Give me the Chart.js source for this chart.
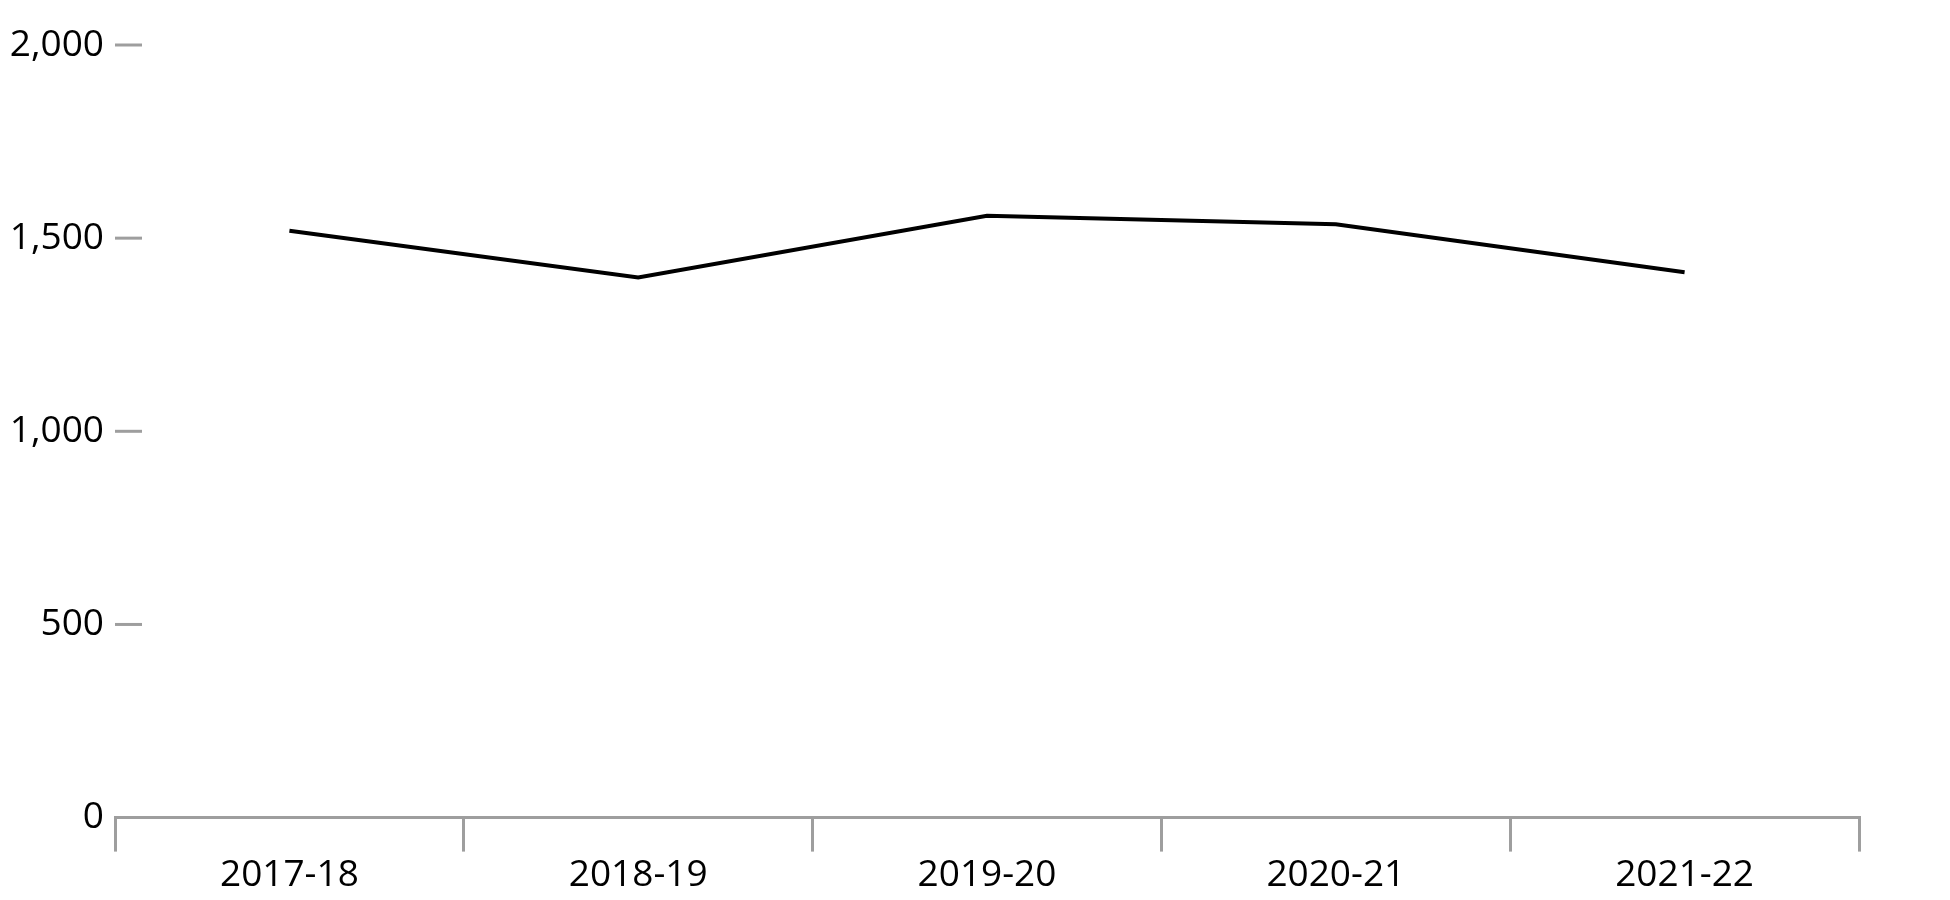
<!DOCTYPE html>
<html>
<head>
<meta charset="utf-8">
<script src="https://cdn.jsdelivr.net/npm/chart.js@4.4.1/dist/chart.umd.min.js"></script>
<style>
  html, body { margin: 0; padding: 0; background: #fff; }
  #wrap { width: 1950px; height: 900px; }
</style>
</head>
<body>
<div id="wrap"><canvas id="lineChart"></canvas></div>
<script>
// Chart data
var years = ['2017-18', '2018-19', '2019-20', '2020-21', '2021-22'];
var counts = [1519, 1398, 1558, 1536, 1412];
var yTicks = [0, 500, 1000, 1500, 2000];

var axisGrey = '#9e9e9e';

// Excel style short tick marks on the inside of the value axis
var insideTicks = {
    id: 'insideTicks',
    afterDraw: function(chart) {
        var ctx = chart.ctx;
        var y = chart.scales.y;
        var left = chart.chartArea.left;
        ctx.save();
        ctx.strokeStyle = axisGrey;
        ctx.lineWidth = 3;
        y.ticks.forEach(function(t) {
            if (t.value === 0) return;
            var py = y.getPixelForValue(t.value);
            ctx.beginPath();
            ctx.moveTo(left, py);
            ctx.lineTo(left + 27, py);
            ctx.stroke();
        });
        ctx.restore();
    }
};

window.addEventListener('load', function() {
    Chart.defaults.font.family = '"Open Sans", sans-serif';
    Chart.defaults.font.size = 37;
    Chart.defaults.color = '#000';

    var ctx = document.getElementById('lineChart').getContext('2d');
    new Chart(ctx, {
        type: 'line',
        data: {
            labels: years,
            datasets: [{
                data: counts,
                borderColor: '#000',
                borderWidth: 4,
                pointRadius: 0,
                fill: false,
                tension: 0
            }]
        },
        options: {
            responsive: true,
            maintainAspectRatio: false,
            animation: false,
            locale: 'en-US',
            layout: { padding: { top: 45, right: 91, bottom: 0, left: 0 } },
            plugins: { legend: { display: false }, tooltip: { enabled: false } },
            scales: {
                x: {
                    offset: true,
                    grid: {
                        offset: true,
                        drawOnChartArea: false,
                        drawTicks: true,
                        tickLength: 34,
                        color: axisGrey,
                        lineWidth: 3
                    },
                    border: { display: true, color: axisGrey, width: 3 },
                    ticks: { padding: 2, maxRotation: 0 }
                },
                y: {
                    min: 0,
                    max: 2000,
                    afterBuildTicks: function(scale) {
                        scale.ticks = yTicks.map(function(v) { return { value: v }; });
                    },
                    afterFit: function(scale) { scale.width = 115; },
                    grid: { display: false, drawTicks: false },
                    border: { display: false },
                    ticks: { padding: 11 }
                }
            }
        },
        plugins: [insideTicks]
    });
});
</script>
</body>
</html>
